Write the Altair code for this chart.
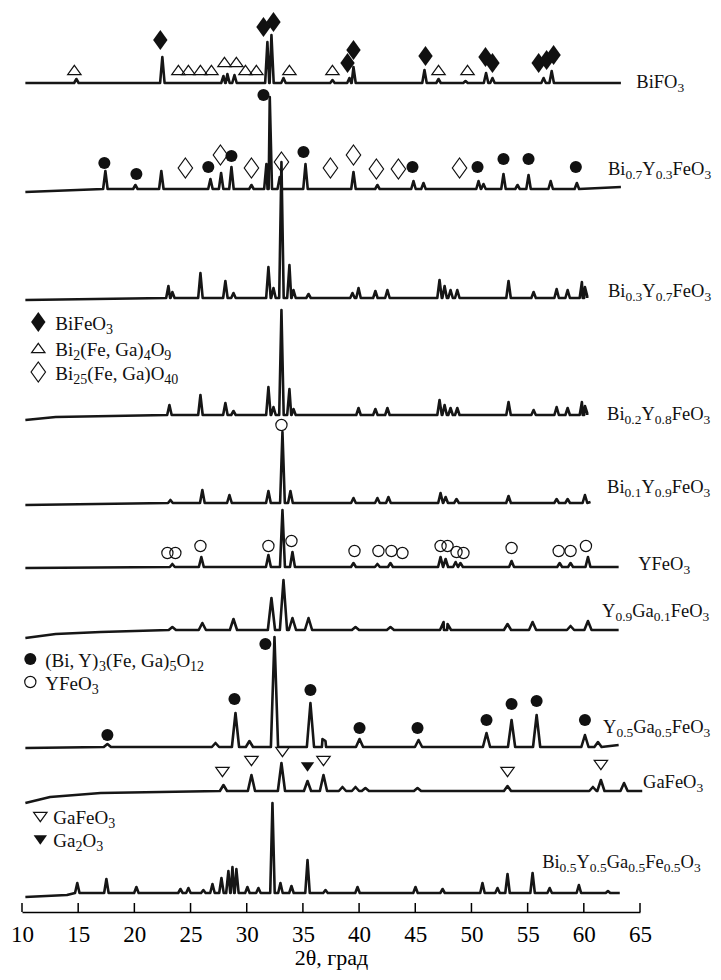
import re
import altair as alt
import pandas as pd

# ---------------- axis ----------------
TICKS = [10, 15, 20, 25, 30, 35, 40, 45, 50, 55, 60, 65]
X_DOMAIN = [10, 65]
Y_DOMAIN = [0, 904]
PLOT_W, PLOT_H = 618, 904
PX_PER_DEG = PLOT_W / (X_DOMAIN[1] - X_DOMAIN[0])

# ---------------- patterns (bottom-up offsets in plot units) ----------------
NAMES = ["BiFO_{3}", "Bi_{0.7}Y_{0.3}FeO_{3}", "Bi_{0.3}Y_{0.7}FeO_{3}", "Bi_{0.2}Y_{0.8}FeO_{3}",
         "Bi_{0.1}Y_{0.9}FeO_{3}", "YFeO_{3}", "Y_{0.9}Ga_{0.1}FeO_{3}", "Y_{0.5}Ga_{0.5}FeO_{3}",
         "GaFeO_{3}", "Bi_{0.5}Y_{0.5}Ga_{0.5}Fe_{0.5}O_{3}"]
LABEL_X = [64.67, 62.15, 62.15, 62.07, 62.07, 64.84, 61.62, 61.71, 65.27, 56.29]
LABEL_Y = [824, 737, 615, 492, 419, 342, 295, 179, 124, 44]

LEVEL = [829, 723, 614, 497, 409, 345, 282, 165, 121, 19]
START_X = [10.3] * 10
START_Y = [829, 720, 612, 492, 407, 344, 274, 164, 109, 15]
RISE = [[], [], [], [(13.0, 495)], [], [], [(13.0, 278), (17.0, 280)], [],
        [(12.5, 115), (17.0, 119)], [(14.0, 17)]]
END_X = [63.3, 63.3, 60.3, 60.3, 60.6, 63.1, 63.1, 63.1, 65.2, 63.2]
END_Y = [829, 725, 616, 499, 410, 345, 282, 167, 121, 19]
WIDTH = [0.2, 0.2, 0.2, 0.2, 0.21, 0.22, 0.32, 0.32, 0.32, 0.2]

P1_POS = [14.84, 22.49, 27.93, 28.28, 28.91, 31.84, 32.20, 33.27, 37.63, 39.14, 39.50, 45.82, 47.07,
          49.47, 51.30, 51.87, 56.42, 57.14]
P1_INT = [4, 26, 7, 9, 8, 41, 48, 5, 3, 5, 16, 13, 4, 2, 10, 5, 5, 12]
P2_POS = [17.42, 20.09, 22.40, 26.77, 27.72, 28.64, 30.42, 31.75, 32.05, 32.94, 35.23, 39.50, 41.63,
          44.84, 45.73, 50.63, 51.07, 52.85, 54.10, 55.08, 57.05, 59.38]
P2_INT = [18, 4, 18, 10, 16, 22, 4, 25, 92, 12, 25, 17, 4, 8, 6, 8, 5, 15, 4, 14, 8, 6]
P3_POS = [23.03, 23.38, 25.88, 28.10, 28.82, 31.93, 32.38, 33.09, 33.80, 34.16, 35.50, 39.41, 39.95,
          41.45, 42.52, 47.16, 47.61, 48.14, 48.74, 53.30, 55.53, 57.58, 58.56, 59.83, 60.10]
P3_INT = [12, 6, 25, 17, 5, 31, 10, 136, 33, 8, 4, 5, 10, 7, 8, 18, 12, 8, 8, 17, 6, 9, 8, 16, 11]
P4_POS = [23.12, 25.88, 28.10, 28.82, 31.93, 32.38, 33.09, 33.80, 34.16, 39.95, 41.45, 42.52, 47.16,
          47.61, 48.14, 48.74, 53.30, 55.53, 57.58, 58.56, 59.83, 60.10]
P4_INT = [10, 20, 12, 4, 28, 8, 105, 26, 6, 7, 6, 7, 15, 10, 7, 7, 13, 5, 8, 7, 13, 9]
P5_POS = [23.21, 26.05, 28.46, 31.93, 33.18, 33.89, 39.50, 41.63, 42.61, 47.25, 47.70, 48.67, 53.30,
          57.58, 58.56, 60.10]
P5_INT = [3, 13, 8, 12, 71, 12, 5, 5, 6, 10, 6, 4, 7, 4, 4, 8]
P6_POS = [23.38, 25.96, 31.93, 33.18, 34.07, 39.50, 41.63, 42.79, 47.25, 47.70, 48.59, 49.02, 53.57,
          57.85, 58.82, 60.37]
P6_INT = [3, 10, 12, 57, 15, 4, 3, 4, 10, 8, 5, 4, 6, 4, 4, 10]
P7_POS = [23.38, 26.05, 28.82, 32.20, 33.27, 34.07, 35.50, 39.68, 42.79, 47.52, 47.87, 53.21, 55.44,
          58.82, 60.37]
P7_INT = [3, 7, 11, 32, 50, 12, 12, 3, 3, 8, 6, 6, 8, 4, 9]
P8_POS = [17.60, 27.22, 29.00, 30.24, 32.47, 35.67, 36.74, 37.01, 40.04, 45.29, 51.34, 53.57, 55.80,
          60.10, 61.26]
P8_INT = [3, 4, 34, 6, 110, 44, 8, 6, 8, 7, 14, 27, 32, 12, 5]
P9_POS = [27.93, 30.42, 33.09, 35.41, 36.83, 38.52, 39.68, 40.56, 45.20, 53.21, 60.81, 61.52, 63.58]
P9_INT = [6, 16, 28, 10, 16, 4, 4, 3, 3, 5, 4, 11, 8]
P10_POS = [14.92, 17.51, 20.18, 24.10, 24.81, 26.14, 26.95, 27.75, 28.37, 28.73, 29.08, 30.06, 31.04,
           32.29, 33.00, 33.98, 35.41, 37.01, 39.86, 45.02, 47.43, 50.98, 52.32, 53.21, 55.44, 56.96,
           59.56, 62.15]
P10_INT = [10, 14, 6, 4, 5, 3, 9, 15, 22, 26, 24, 6, 5, 90, 10, 7, 33, 3, 6, 6, 4, 10, 5, 19, 20, 5, 8, 2]

POS = [P1_POS, P2_POS, P3_POS, P4_POS, P5_POS, P6_POS, P7_POS, P8_POS, P9_POS, P10_POS]
INT = [P1_INT, P2_INT, P3_INT, P4_INT, P5_INT, P6_INT, P7_INT, P8_INT, P9_INT, P10_INT]

# ---------------- phase markers ----------------
BIFEO3_X = [22.31, 31.49, 32.38, 38.97, 39.50, 45.91, 51.25, 51.87, 55.98, 56.69, 57.31]
BIFEO3_Y = [872, 885, 890, 849, 862, 856, 855, 849, 849, 852, 857]
BI2_X = [14.66, 23.92, 24.81, 25.88, 26.86, 28.02, 29.08, 29.89, 30.86, 33.80, 37.63, 47.07, 49.65]
BI2_Y = [842, 842, 842, 842, 842, 850, 850, 842, 842, 842, 842, 842, 842]
BI25_X = [24.54, 27.66, 30.42, 33.09, 37.45, 39.50, 41.54, 43.50, 48.94]
BI25_Y = [744, 757, 744, 750, 744, 757, 743, 743, 744]
GARNET_X = [17.33, 20.18, 26.58, 28.64, 31.49, 35.05, 44.75, 50.54, 52.85, 55.08, 59.29,
            17.60, 28.91, 31.66, 35.67, 40.04, 45.20, 51.34, 53.57, 55.80, 60.10]
GARNET_Y = [749, 738, 745, 756, 817, 760, 745, 745, 753, 753, 745,
            177, 213, 268, 222, 184, 184, 192, 208, 211, 192]
YFEO3_X = [33.09, 22.94, 23.65, 25.88, 31.93, 33.98, 39.59, 41.72, 42.88, 43.86, 47.25, 47.87, 48.67,
           49.29, 53.57, 57.76, 58.82, 60.19]
YFEO3_Y = [487, 359, 359, 366, 366, 371, 361, 361, 361, 359, 366, 366, 360, 359, 364, 361, 361, 366]
GAFEO3_X = [27.84, 30.42, 33.18, 36.83, 53.21, 61.52]
GAFEO3_Y = [140, 151, 160, 151, 140, 147]
GA2O3_X = [35.41]
GA2O3_Y = [145]

# legends: symbol position, text position (baseline), label
LEG_PHASE = ["BiFeO3", "Bi2", "Bi25", "garnet", "YFeO3", "GaFeO3", "Ga2O3"]
LEG_SX = [11.45, 11.45, 11.45, 10.74, 10.74, 11.63, 11.63]
LEG_SY = [590, 564, 540, 253, 230, 95, 72]
LEG_TX = [12.97, 12.97, 12.97, 12.07, 12.07, 12.79, 12.79]
LEG_TY = [582, 556, 532, 245, 222, 88, 65]
LEG_TEXT = ["BiFeO_{3}", "Bi_{2}(Fe, Ga)_{4}O_{9}", "Bi_{25}(Fe, Ga)O_{40}",
            "(Bi, Y)_{3}(Fe, Ga)_{5}O_{12}", "YFeO_{3}", "GaFeO_{3}", "Ga_{2}O_{3}"]

# ---------------- styles ----------------
DIAMOND = "M0,-1L0.72,0L0,1L-0.72,0Z"
TRI_UP = "M0,-0.7L1,0.7L-1,0.7Z"
TRI_DOWN = "M-1,-0.7L1,-0.7L0,0.7Z"
STYLE = {  # phase: (shape, size, filled)
    "BiFeO3": (DIAMOND, 400, True),
    "Bi2": (TRI_UP, 180, False),
    "Bi25": (DIAMOND, 400, False),
    "garnet": ("circle", 145, True),
    "YFeO3": ("circle", 125, False),
    "GaFeO3": (TRI_DOWN, 180, False),
    "Ga2O3": (TRI_DOWN, 180, True),
}
FONT = "Times New Roman"
LABEL_FS = (18.5, 13.5)   # (main, subscript) for pattern names
LEGEND_FS = (19, 14)      # (main, subscript) for legend entries
SUB_SHIFT = 4
CHAR_W = {"B": .667, "i": .278, "F": .556, "e": .444, "O": .722, "Y": .722, "G": .722, "a": .444,
          "(": .333, ")": .333, ",": .25, " ": .25, ".": .25}

# ---------------- build tables ----------------
line_rows = []
for i in range(len(NAMES)):
    pts = [(START_X[i], START_Y[i])] + list(RISE[i]) + [(END_X[i], END_Y[i])]
    w = WIDTH[i]
    for p, h in zip(POS[i], INT[i]):
        pts += [(p - w, LEVEL[i]), (p, LEVEL[i] + h), (p + w, LEVEL[i])]
    pts.sort()
    for k, (x, y) in enumerate(pts):
        line_rows.append({"trace": i, "k": k, "x": x, "y": y})
lines_df = pd.DataFrame(line_rows)

mk_rows = []
for phase, xs, ys in [("BiFeO3", BIFEO3_X, BIFEO3_Y), ("Bi2", BI2_X, BI2_Y), ("Bi25", BI25_X, BI25_Y),
                      ("garnet", GARNET_X, GARNET_Y), ("YFeO3", YFEO3_X, YFEO3_Y),
                      ("GaFeO3", GAFEO3_X, GAFEO3_Y), ("Ga2O3", GA2O3_X, GA2O3_Y)]:
    for x, y in zip(xs, ys):
        mk_rows.append({"phase": phase, "x": x, "y": y})
for phase, x, y in zip(LEG_PHASE, LEG_SX, LEG_SY):
    mk_rows.append({"phase": phase, "x": x, "y": y})
mk_df = pd.DataFrame(mk_rows)
mk_df["shape"] = mk_df["phase"].map(lambda p: STYLE[p][0])
mk_df["size"] = mk_df["phase"].map(lambda p: STYLE[p][1])
mk_df["filled"] = mk_df["phase"].map(lambda p: STYLE[p][2])


def segments(markup):
    out = []
    for m in re.finditer(r"_\{([^}]*)\}|([^_]+)", markup):
        if m.group(1) is not None:
            out.append((m.group(1), True))
        else:
            out.append((m.group(2), False))
    return out


def text_rows(markups, xs, ys, sizes):
    rows = []
    for markup, x0, y0 in zip(markups, xs, ys):
        px = 0.0
        for text, sub in segments(markup):
            fs = sizes[1] if sub else sizes[0]
            rows.append({"x": x0 + px / PX_PER_DEG, "y": y0 - (SUB_SHIFT if sub else 0),
                         "text": text, "size": fs})
            px += sum(CHAR_W.get(c, 0.5) for c in text) * fs
    return rows


txt_df = pd.DataFrame(text_rows(NAMES, LABEL_X, LABEL_Y, LABEL_FS)
                      + text_rows(LEG_TEXT, LEG_TX, LEG_TY, LEGEND_FS))

tick_df = pd.DataFrame({"x": TICKS, "y0": [0] * len(TICKS), "y1": [9] * len(TICKS)})

# ---------------- chart ----------------
XS = alt.Scale(domain=X_DOMAIN, nice=False, zero=False)
YS = alt.Scale(domain=Y_DOMAIN, nice=False, zero=False)
XAX = alt.Axis(values=TICKS, title="2θ, град", format="d", tickSize=0, grid=False,
               labelFont=FONT, labelFontSize=23, labelColor="black", labelPadding=11,
               labelFlush=False, labelOverlap=False,
               titleFont=FONT, titleFontSize=22, titleFontWeight="normal", titleColor="black",
               titleBaseline="alphabetic", titleY=52,
               domainColor="black", domainWidth=1.5)
X = alt.X("x:Q", scale=XS, axis=XAX)
Y = alt.Y("y:Q", scale=YS, axis=None)

lines = alt.Chart(lines_df).mark_line(color="#161616", strokeWidth=2.6, strokeJoin="round").encode(
    x=X, y=Y, detail="trace:N", order="k:Q")

ticks = alt.Chart(tick_df).mark_rule(color="black", strokeWidth=1.5).encode(
    x=X, y=alt.Y("y0:Q", scale=YS, axis=None), y2="y1:Q")

filled = alt.Chart(mk_df[mk_df["filled"]]).mark_point(filled=True, color="#111", opacity=1).encode(
    x=X, y=Y, shape=alt.Shape("shape:N", scale=None), size=alt.Size("size:Q", scale=None))

hollow = alt.Chart(mk_df[~mk_df["filled"]]).mark_point(
    filled=False, color="#111", strokeWidth=1.2, opacity=1).encode(
    x=X, y=Y, shape=alt.Shape("shape:N", scale=None), size=alt.Size("size:Q", scale=None))

labels = alt.Chart(txt_df).mark_text(align="left", baseline="alphabetic", font=FONT,
                                     color="#111").encode(
    x=X, y=Y, text="text:N", size=alt.Size("size:Q", scale=None))

chart = alt.layer(lines, ticks, filled, hollow, labels).properties(
    width=PLOT_W, height=PLOT_H,
    padding={"left": 14, "right": 73, "top": 0, "bottom": 59},
    autosize=alt.AutoSizeParams(type="none"),
    background="white",
).configure_view(stroke=None)

chart.save("out.html", embed_options={"renderer": "svg", "actions": False})
